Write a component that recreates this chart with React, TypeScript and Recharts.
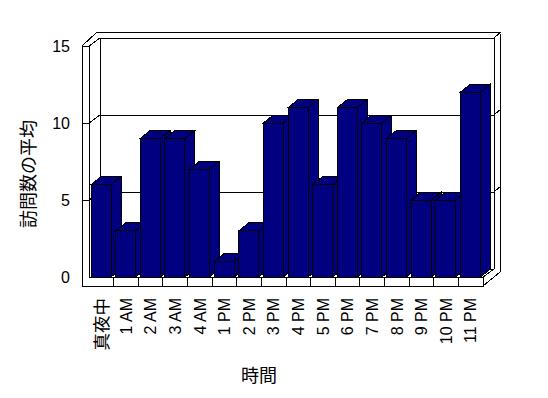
import { BarChart, Bar, XAxis, YAxis, CartesianGrid, Customized } from "recharts";

// 時間帯ごとの訪問数の平均
const hours = [
  "真夜中", "1 AM", "2 AM", "3 AM", "4 AM", "1 PM", "2 PM", "3 PM",
  "4 PM", "5 PM", "6 PM", "7 PM", "8 PM", "9 PM", "10 PM", "11 PM",
];
const visits = [6, 3, 9, 9, 7, 1, 3, 10, 11, 6, 11, 10, 9, 5, 5, 12];
const yTicks = [0, 5, 10, 15];

const data = hours.map((h, i) => ({ hour: h, visits: visits[i] }));

const W = 548;
const H = 398;
const Y_W = 89; // y axis area
const X_H = 121; // x axis area
const M = { top: 46, right: 65, left: 0, bottom: 0 };
const WALL = { dx: 11, dy: -8 }; // depth of the back wall
const BAR_D = { dx: 10, dy: -8 }; // depth of each column
const NAVY = "#000080";
const FONT = "'Liberation Sans', Arial, 'Noto Sans CJK JP', sans-serif";
const CRISP = "crispEdges";

// plot area (front plane)
const px0 = Y_W;
const px1 = W - M.right;
const py0 = M.top;
const py1 = H - X_H;

// 3D column
const Column = (p: any) => {
  const { x, y, width, height } = p;
  if (height == null || width == null) return null;
  const { dx, dy } = BAR_D;
  return (
    <g stroke="#000" strokeWidth={1} fill={NAVY} shapeRendering={CRISP}>
      <path d={`M${x + width},${y} l${dx},${dy} v${height} l${-dx},${-dy} Z`} />
      <path d={`M${x},${y} l${dx},${dy} h${width} l${-dx},${-dy} Z`} />
      <rect x={x} y={y} width={width} height={height} />
    </g>
  );
};

// grid line on the back wall, plus the tick on the left wall
const gridLine = (p: any) => {
  const { x1, y1, x2 } = p;
  const by = y1 + WALL.dy;
  const bottom = Math.abs(y1 - py1) < 0.5;
  const pts = bottom
    ? `${x1 + WALL.dx},${by} ${x2 + WALL.dx},${by}`
    : `${x1 - 7},${y1} ${x1},${y1} ${x1 + WALL.dx},${by} ${x2 + WALL.dx},${by} ${x2 + WALL.dx + 7},${by - 6}`;
  return (
    <polyline key={`gl-${y1}`} points={pts} fill="none" stroke="#000" strokeWidth={1} shapeRendering={CRISP} />
  );
};

// walls and floor
const Frame = () => {
  const band = (px1 - px0) / hours.length;
  const ox = px1 + 17;
  const line = (a: number[], k: string) => (
    <polyline key={k} points={a.join(" ")} fill="none" stroke="#000" strokeWidth={1} shapeRendering={CRISP} />
  );
  return (
    <g>
      {line([px0 - 7, py1 + 9, px0 - 7, py0, px0 + 8, py0 - 14, ox - 1, py0 - 14, ox, py0 - 12, ox, py1 - 5], "outer")}
      {line([px0, py0, px0, py1], "inL")}
      {line([px0 + WALL.dx, py0 + WALL.dy, px0 + WALL.dx, py1 + WALL.dy], "backL")}
      {line([px1 + WALL.dx, py0 + WALL.dy, px1 + WALL.dx, py1 + WALL.dy], "backR")}
      {line([px0, py1, px1, py1, px1 + WALL.dx, py1 + WALL.dy], "floorTop")}
      {line([px0 - 7, py1 + 9, px1, py1 + 9, px1, py1, px1, py1 + 9, ox, py1 - 5], "floorBot")}
      {hours.slice(1).map((_, i) =>
        line([px0 + band * (i + 1), py1, px0 + band * (i + 1), py1 + 9], `div${i}`)
      )}
      <text
        x={29}
        y={174}
        transform="rotate(-90, 29, 174)"
        textAnchor="middle"
        dy="0.36em"
        fontSize={18}
        fontFamily={FONT}
        fill="#000"
      >
        訪問数の平均
      </text>
      <text x={259} y={376} textAnchor="middle" dy="0.36em" fontSize={18} fontFamily={FONT} fill="#000">
        時間
      </text>
    </g>
  );
};

const XTick = (p: any) => {
  const { x, y, payload } = p;
  const cjk = /[^\x00-\x7f]/.test(payload.value);
  return (
    <text
      x={x}
      y={y}
      transform={`rotate(-90, ${x}, ${y})`}
      textAnchor="end"
      dy="0.36em"
      fontSize={cjk ? 17.5 : 16}
      fontFamily={FONT}
      fill="#000"
    >
      {payload.value}
    </text>
  );
};

const YTick = (p: any) => {
  const { x, y, payload } = p;
  return (
    <text x={x} y={y} textAnchor="end" dy="0.36em" fontSize={16} fontFamily={FONT} fill="#000">
      {payload.value}
    </text>
  );
};

export default function App() {
  return (
    <div style={{ position: "absolute", left: 0, top: 0, background: "#fff" }}>
      <BarChart width={W} height={H} data={data} margin={M} barSize={20}>
        <CartesianGrid vertical={false} horizontal={gridLine} stroke="#000" />
        <Customized component={<Frame />} />
        <XAxis
          dataKey="hour"
          interval={0}
          height={X_H}
          axisLine={false}
          tickLine={false}
          tickSize={0}
          tickMargin={21}
          tick={<XTick />}
        />
        <YAxis
          type="number"
          domain={[0, 15]}
          ticks={yTicks}
          width={Y_W}
          axisLine={false}
          tickLine={false}
          tickSize={0}
          tickMargin={19}
          tick={<YTick />}
        />
        <Bar dataKey="visits" shape={<Column />} isAnimationActive={false} />
      </BarChart>
    </div>
  );
}
